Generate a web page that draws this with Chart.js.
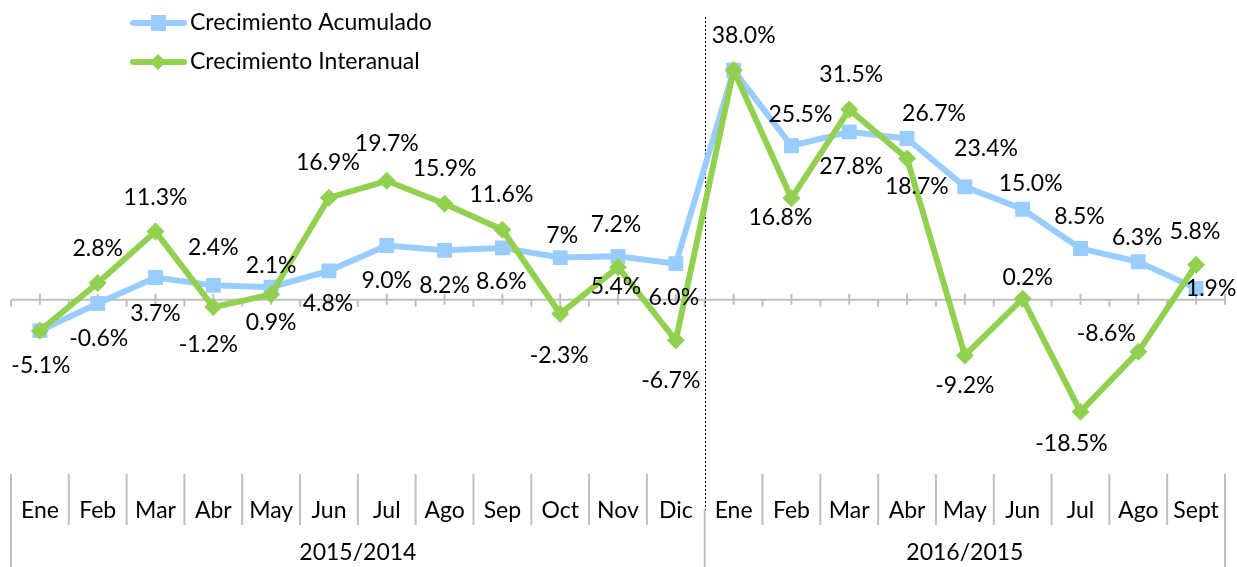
<!DOCTYPE html>
<html>
<head>
<meta charset="utf-8">
<script src="https://cdn.jsdelivr.net/npm/chart.js@4.4.0/dist/chart.umd.min.js"></script>
<style>
  body { margin: 0; background: #fff; }
  #wrap { width: 1237px; height: 567px; position: relative; }
</style>
</head>
<body>
<div id="wrap"><canvas id="growthChart"></canvas></div>
<script>
const months = ["Ene", "Feb", "Mar", "Abr", "May", "Jun", "Jul", "Ago", "Sep", "Oct", "Nov", "Dic",
                "Ene", "Feb", "Mar", "Abr", "May", "Jun", "Jul", "Ago", "Sept"];
const periods = ["2015/2014", "2016/2015"];
const periodSizes = [12, 9];

const acumulado = [-5.1, -0.6, 3.7, 2.4, 2.1, 4.8, 9.0, 8.2, 8.6, 7.0, 7.2, 6.0,
                   38.0, 25.5, 27.8, 26.7, 18.7, 15.0, 8.5, 6.3, 1.9];
const interanual = [-5.1, 2.8, 11.3, -1.2, 0.9, 16.9, 19.7, 15.9, 11.6, -2.3, 5.4, -6.7,
                    38.0, 16.8, 31.5, 23.4, -9.2, 0.2, -18.5, -8.6, 5.8];

// where each value label sits relative to its point (dx, dy); null = no label
const acumLabelPos = [null, [1, 35], [0, 36], [0, -38], [0, -22], [-1, 33], [0, 35], [0, 35], [-1, 34],
                      [2, -22], [-2, -32], [-2, 34], null, [9, -31], [2, 35], [27, -25], [-48, 0],
                      [8, -26], [-1, -32], [-1, -24], [15, 0]];
const interLabelPos = [[1, 35], [0, -34], [0, -34], [-5, 37], [0, 28], [-1, -35], [0, -37], [0, -35],
                       [-1, -35], [-1, 42], [-2, 19], [-5, 40], [10, -35], [-11, 19], [2, -35], [79, -10],
                       [0, 30], [5, -21], [-9, 32], [-32, -18], [-1, -33]];

const FONT = '23px Lato';
const BLUE = '#99CCFF';
const GREEN = '#92D050';
const GRID = '#BFBFBF';

function fmt(v, i, ds) {
    if (ds === 1 && i === 9) return '7%';
    return v.toFixed(1) + '%';
}

const valueLabels = {
    id: 'valueLabels',
    afterDatasetsDraw(chart) {
        const ctx = chart.ctx;
        ctx.save();
        ctx.font = FONT;
        ctx.fillStyle = '#000';
        ctx.textAlign = 'center';
        ctx.textBaseline = 'middle';
        chart.data.datasets.forEach((ds, d) => {
            const meta = chart.getDatasetMeta(d);
            meta.data.forEach((pt, i) => {
                const off = ds.labelPos[i];
                if (!off) return;
                ctx.fillText(fmt(ds.data[i], i, ds.key), pt.x + off[0], pt.y + off[1]);
            });
        });
        ctx.restore();
    }
};

const decorations = {
    id: 'decorations',
    beforeDatasetsDraw(chart) {
        const ctx = chart.ctx;
        const x = chart.scales.x, y = chart.scales.y;
        const half = (x.getPixelForValue(1) - x.getPixelForValue(0)) / 2;
        const y0 = y.getPixelForValue(0);
        const left = x.getPixelForValue(0) - half;
        const right = x.getPixelForValue(months.length - 1) + half;
        ctx.save();
        ctx.strokeStyle = GRID;
        ctx.lineWidth = 2;
        ctx.beginPath();
        ctx.moveTo(left, y0);
        ctx.lineTo(right, y0);
        for (let i = 0; i < months.length; i++) {
            const cx = x.getPixelForValue(i);
            ctx.moveTo(cx, y0 - 6);
            ctx.lineTo(cx, y0 + 5);
            ctx.moveTo(cx - half, y0);
            ctx.lineTo(cx - half, y0 + 7);
        }
        ctx.moveTo(right, y0 - 6);
        ctx.lineTo(right, y0 + 5);
        ctx.stroke();

        // dotted separator between the two periods
        const sep = x.getPixelForValue(periodSizes[0]) - half;
        ctx.strokeStyle = '#000';
        ctx.lineWidth = 1;
        ctx.setLineDash([2, 2]);
        ctx.beginPath();
        ctx.moveTo(Math.round(sep) + 0.5, 17);
        ctx.lineTo(Math.round(sep) + 0.5, 510);
        ctx.stroke();
        ctx.restore();
    },
    afterDraw(chart) {
        const ctx = chart.ctx;
        const x = chart.scales.x;
        const half = (x.getPixelForValue(1) - x.getPixelForValue(0)) / 2;
        ctx.save();
        ctx.strokeStyle = GRID;
        ctx.lineWidth = 2;
        ctx.beginPath();
        let start = 0;
        periodSizes.forEach((n, p) => {
            const l = x.getPixelForValue(start) - half;
            const r = x.getPixelForValue(start + n - 1) + half;
            ctx.moveTo(l, p === 0 ? 474 : 510);
            ctx.lineTo(l, 567);
            if (p === periodSizes.length - 1) {
                ctx.moveTo(r, 474);
                ctx.lineTo(r, 567);
            }
            for (let i = start + 1; i < start + n; i++) {
                const bx = x.getPixelForValue(i) - half;
                ctx.moveTo(bx, 474);
                ctx.lineTo(bx, 525);
            }
            start += n;
        });
        ctx.stroke();

        ctx.font = FONT;
        ctx.fillStyle = '#000';
        ctx.textAlign = 'center';
        ctx.textBaseline = 'middle';
        months.forEach((m, i) => ctx.fillText(m, x.getPixelForValue(i), 511));
        start = 0;
        periodSizes.forEach((n, p) => {
            const l = x.getPixelForValue(start) - half;
            const r = x.getPixelForValue(start + n - 1) + half;
            ctx.fillText(periods[p], (l + r) / 2, 553);
            start += n;
        });

        // legend
        const items = [chart.data.datasets[1], chart.data.datasets[0]];
        items.forEach((ds, k) => {
            const ly = 23 + k * 39;
            ctx.strokeStyle = ds.borderColor;
            ctx.lineWidth = 6;
            ctx.lineCap = 'round';
            ctx.beginPath();
            ctx.moveTo(133, ly);
            ctx.lineTo(184, ly);
            ctx.stroke();
            ctx.fillStyle = ds.borderColor;
            ctx.beginPath();
            if (ds.pointStyle === 'rect') {
                ctx.rect(151, ly - 8, 15, 16);
            } else {
                ctx.moveTo(158, ly - 8);
                ctx.lineTo(166, ly);
                ctx.lineTo(158, ly + 8);
                ctx.lineTo(150, ly);
                ctx.closePath();
            }
            ctx.fill();
            ctx.fillStyle = '#000';
            ctx.textAlign = 'left';
            ctx.fillText(ds.label, 190, ly);
        });
        ctx.restore();
    }
};

new Chart(document.getElementById('growthChart'), {
    type: 'line',
    data: {
        labels: months,
        datasets: [
            {
                key: 0,
                label: 'Crecimiento Interanual',
                data: interanual,
                labelPos: interLabelPos,
                borderColor: GREEN,
                backgroundColor: GREEN,
                borderWidth: 6,
                pointStyle: 'rectRot',
                pointRadius: 9,
                pointBorderWidth: 0,
                tension: 0,
                order: 0
            },
            {
                key: 1,
                label: 'Crecimiento Acumulado',
                data: acumulado,
                labelPos: acumLabelPos,
                borderColor: BLUE,
                backgroundColor: BLUE,
                borderWidth: 6,
                pointStyle: 'rect',
                pointRadius: 10.5,
                pointBorderWidth: 0,
                tension: 0,
                order: 1
            }
        ]
    },
    options: {
        responsive: true,
        maintainAspectRatio: false,
        animation: false,
        layout: { padding: { left: 11, right: 12, top: 40, bottom: 110 } },
        plugins: {
            legend: { display: false },
            tooltip: { enabled: false }
        },
        scales: {
            x: { display: false, offset: true },
            y: { display: false, min: -26, max: 43 }
        }
    },
    plugins: [decorations, valueLabels]
});
</script>
</body>
</html>
